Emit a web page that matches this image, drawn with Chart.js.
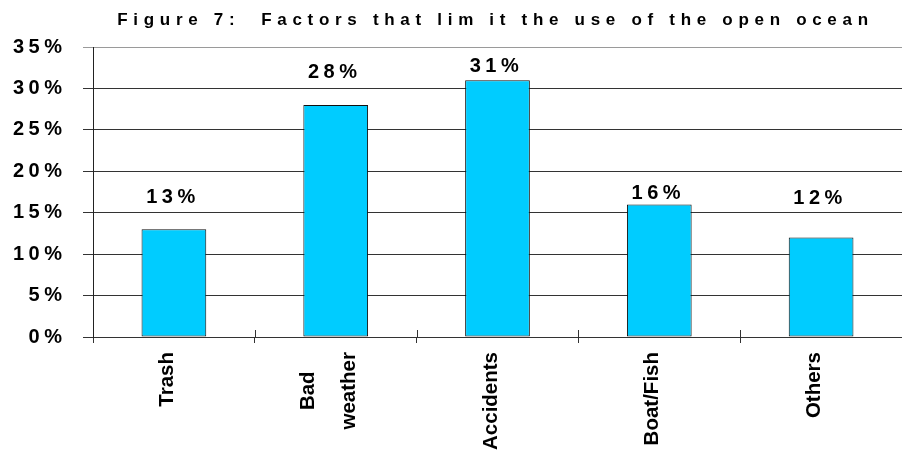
<!DOCTYPE html>
<html>
<head>
<meta charset="utf-8">
<title>Factors that limit the use of the open ocean</title>
<script src="https://cdn.jsdelivr.net/npm/chart.js@4/dist/chart.umd.min.js"></script>
<style>
  html, body { margin: 0; padding: 0; background: #fff; }
  #wrap { width: 902px; height: 455px; }
</style>
</head>
<body>
<div id="wrap"><canvas id="myChart" width="902" height="455"></canvas></div>
<script>
// chart data
var chartTitle = 'Figure 7:  Factors that lim it the use of the open ocean';
var factors = ['Trash', ['Bad', 'weather'], 'Accidents', 'Boat/Fish', 'Others'];
var shares = [13, 28, 31, 16, 12];
var yTicks = [0, 5, 10, 15, 20, 25, 30, 35];

// how far each value label sits above its bar (px)
var labelLift = [26, 27, 8, 5, 34];

var FONT = "'Liberation Sans', Arial, sans-serif";
var NUM_SPACING = 4.5;

// canvas letterSpacing: none for category labels, wide for numbers and title
var spacing = {
  id: 'spacing',
  beforeDraw: function(chart) {
    chart.ctx.letterSpacing = '0px';
  },
  afterDatasetsDraw: function(chart) {
    var ctx = chart.ctx;
    var meta = chart.getDatasetMeta(0);
    ctx.save();
    ctx.letterSpacing = NUM_SPACING + 'px';
    ctx.font = 'bold 20px ' + FONT;
    ctx.fillStyle = '#000';
    ctx.textAlign = 'center';
    ctx.textBaseline = 'alphabetic';
    meta.data.forEach(function(bar, i) {
      ctx.fillText(shares[i] + '%', bar.x - 1, bar.y - labelLift[i]);
    });
    ctx.restore();
    // y tick labels are on a higher layer and get drawn after this
    ctx.letterSpacing = NUM_SPACING + 'px';
  },
  afterDraw: function(chart) {
    var ctx = chart.ctx;
    var area = chart.chartArea;
    var xs = chart.scales.x;

    ctx.save();
    ctx.letterSpacing = '0px';

    // small marks crossing the base line between categories
    ctx.strokeStyle = '#333';
    ctx.lineWidth = 1;
    ctx.beginPath();
    for (var i = 1; i < factors.length; i++) {
      var x = Math.round((xs.getPixelForTick(i - 1) + xs.getPixelForTick(i)) / 2) + 0.5;
      ctx.moveTo(x, area.bottom - 7);
      ctx.lineTo(x, area.bottom);
    }
    ctx.stroke();

    // category names, turned upright, lines centred on each other
    ctx.font = 'bold 20.5px ' + FONT;
    ctx.fillStyle = '#000';
    ctx.textAlign = 'center';
    ctx.textBaseline = 'middle';
    var top = area.bottom + 15;
    factors.forEach(function(name, i) {
      var lines = Array.isArray(name) ? name : [name];
      var widest = Math.max.apply(null, lines.map(function(l) { return ctx.measureText(l).width; }));
      var px = xs.getPixelForTick(i) - 6.5;
      lines.forEach(function(line, j) {
        ctx.save();
        ctx.translate(px + (j - (lines.length - 1) / 2) * 41, top + widest / 2);
        ctx.rotate(-Math.PI / 2);
        ctx.fillText(line, 0, 0);
        ctx.restore();
      });
    });

    // title
    ctx.letterSpacing = '5.7px';
    ctx.font = 'bold 17px ' + FONT;
    ctx.textAlign = 'center';
    ctx.textBaseline = 'middle';
    ctx.fillText(chartTitle, 495.5, 20);
    ctx.restore();
  }
};

var ctx = document.getElementById('myChart').getContext('2d');
var myChart = new Chart(ctx, {
  type: 'bar',
  data: {
    labels: factors,
    datasets: [{
      data: shares,
      backgroundColor: '#00CCFF',
      borderColor: '#111',
      borderWidth: 1,
      borderSkipped: false,
      categoryPercentage: 1,
      barPercentage: 0.4
    }]
  },
  options: {
    responsive: false,
    animation: false,
    devicePixelRatio: 1,
    layout: { padding: { top: 47, right: 0, bottom: 0, left: 0 } },
    plugins: {
      legend: { display: false },
      title: { display: false },
      tooltip: { enabled: false }
    },
    scales: {
      x: {
        offset: true,
        grid: {
          offset: true,
          drawOnChartArea: false,
          color: '#333',
          tickLength: 6
        },
        border: { color: '#333', width: 1 },
        ticks: { display: false },
        afterFit: function(scale) { scale.height = 118; }
      },
      y: {
        min: 0,
        max: 35,
        afterBuildTicks: function(scale) {
          scale.ticks = yTicks.map(function(v) { return { value: v }; });
        },
        grid: {
          color: function(c) { return c.tick && c.tick.value === 35 ? '#9a9a9a' : '#333'; },
          tickLength: 10
        },
        border: { color: '#222', width: 1 },
        ticks: {
          z: 1,
          padding: 16.5,
          color: '#000',
          font: { family: FONT, size: 20, weight: 'bold' },
          callback: function(v) { return v + '%'; }
        },
        afterFit: function(scale) { scale.width = 93; }
      }
    }
  },
  plugins: [spacing]
});
</script>
</body>
</html>
